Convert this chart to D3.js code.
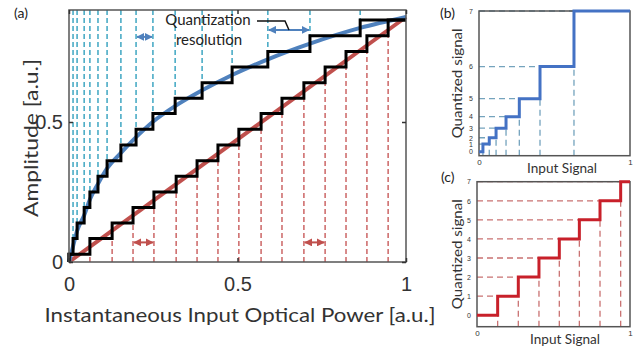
<!DOCTYPE html>
<html>
<head>
<meta charset="utf-8">
<script src="https://cdn.jsdelivr.net/npm/d3@7"></script>
<style>
  body { margin: 0; background: #fff; }
  svg { display: block; font-family: Lato, "Open Sans", sans-serif; }
</style>
</head>
<body>
<div class="container"></div>
<script>
// ---- panel (a) data ----
// quantized output levels (amplitude, a.u.)
const levelsA = [0.028, 0.084, 0.139, 0.195, 0.25, 0.306, 0.362, 0.418, 0.474, 0.53, 0.585, 0.64, 0.696, 0.752, 0.808, 0.864];
// input power where the linear quantizer steps up (red)
const redSteps = [0.062, 0.128, 0.19, 0.252, 0.318, 0.38, 0.442, 0.504, 0.57, 0.632, 0.697, 0.76, 0.822, 0.884, 0.947];
// input power where the nonlinear quantizer steps up (blue)
const blueSteps = [0.012, 0.024, 0.045, 0.062, 0.086, 0.113, 0.154, 0.199, 0.249, 0.315, 0.395, 0.484, 0.59, 0.715, 0.864];
// linear response
const redLineX = [0, 1];
const redLineY = [0, 0.875];
// nonlinear response
const blueCurveX = [0, 0.012, 0.024, 0.045, 0.062, 0.086, 0.113, 0.154, 0.199, 0.249, 0.315, 0.395, 0.484, 0.59, 0.715, 0.864, 1];
const blueCurveY = [0, 0.056, 0.111, 0.167, 0.223, 0.279, 0.334, 0.39, 0.446, 0.501, 0.557, 0.613, 0.668, 0.724, 0.78, 0.836, 0.875];
const xTicksA = [0, 0.5, 1];
const yTicksA = [0, 0.5];

// ---- panel (b) data ----
const levelsB = [0.028, 0.08, 0.124, 0.19, 0.27, 0.394, 0.616, 1.0];
const stepsB = [0.026, 0.068, 0.113, 0.179, 0.267, 0.404, 0.629];
// ---- panel (c) data ----
const levelsC = [0, 1, 2, 3, 4, 5, 6, 7];
const stepsC = [0.135, 0.27, 0.405, 0.538, 0.669, 0.804, 0.939];
const levelLabels = ['0', '1', '2', '3', '4', '5', '6', '7'];

const width = 634;
const height = 353;

const svg = d3.select('.container')
    .append('svg')
    .attr('width', width)
    .attr('height', height);

// arrow heads
const defs = svg.append('defs');
[['blueHead', '#4f81bd'], ['redHead', '#c0504d']].forEach(([id, col]) => {
    defs.append('marker')
        .attr('id', id)
        .attr('viewBox', '0 0 10 10')
        .attr('refX', 9).attr('refY', 5)
        .attr('markerWidth', 4).attr('markerHeight', 4)
        .attr('orient', 'auto-start-reverse')
        .append('path')
        .attr('d', 'M0,0 L10,5 L0,10 z')
        .attr('fill', col);
});

// builds the points of a staircase from step positions and levels
function stairs(steps, levels, x0, x1) {
    const pts = [[x0, levels[0]]];
    steps.forEach((s, i) => {
        pts.push([s, levels[i]]);
        pts.push([s, levels[i + 1]]);
    });
    pts.push([x1, levels[levels.length - 1]]);
    return pts;
}

// ================= panel (a) =================
const xA = d3.scaleLinear().domain([0, 1]).range([69, 406]);
const yA = d3.scaleLinear().domain([0, 0.9]).range([262, 10]);
const gA = svg.append('g');

// cyan dashes above the nonlinear staircase
gA.selectAll('.cyanDash')
    .data(blueSteps)
    .enter()
    .append('line')
    .attr('x1', d => xA(d)).attr('x2', d => xA(d))
    .attr('y1', yA(0.9))
    .attr('y2', (d, i) => yA(levelsA[i + 1]))
    .attr('stroke', '#4bacc6')
    .attr('stroke-width', 1.6)
    .attr('stroke-dasharray', '5,3');

// red dashes below the linear staircase
gA.selectAll('.redDash')
    .data(redSteps)
    .enter()
    .append('line')
    .attr('x1', d => xA(d)).attr('x2', d => xA(d))
    .attr('y1', yA(0))
    .attr('y2', (d, i) => yA(levelsA[i]))
    .attr('stroke', '#cf6f6f')
    .attr('stroke-width', 1.6)
    .attr('stroke-dasharray', '5,3');

const lineA = d3.line().x(d => xA(d[0])).y(d => yA(d[1]));

gA.append('path')
    .attr('d', lineA(redLineX.map((x, i) => [x, redLineY[i]])))
    .attr('fill', 'none')
    .attr('stroke', '#c0504d')
    .attr('stroke-width', 4);

gA.append('path')
    .attr('d', lineA.curve(d3.curveMonotoneX)(blueCurveX.map((x, i) => [x, blueCurveY[i]])))
    .attr('fill', 'none')
    .attr('stroke', '#4f81bd')
    .attr('stroke-width', 4);
lineA.curve(d3.curveLinear);

[redSteps, blueSteps].forEach(steps => {
    gA.append('path')
        .attr('d', lineA([[0, 0]].concat(stairs(steps, levelsA, 0, 1))))
        .attr('fill', 'none')
        .attr('stroke', '#000')
        .attr('stroke-width', 3);
});

// quantization resolution arrows
const arrowsA = [
    {a: blueSteps[7], b: blueSteps[8], y: 0.804, head: 'blueHead', col: '#4f81bd'},
    {a: blueSteps[12], b: blueSteps[13], y: 0.829, head: 'blueHead', col: '#4f81bd'},
    {a: redSteps[2], b: redSteps[3], y: 0.07, head: 'redHead', col: '#c0504d'},
    {a: redSteps[10], b: redSteps[11], y: 0.07, head: 'redHead', col: '#c0504d'}
];
gA.selectAll('.arrow')
    .data(arrowsA)
    .enter()
    .append('line')
    .attr('x1', d => xA(d.a) + 1).attr('x2', d => xA(d.b) - 1)
    .attr('y1', d => yA(d.y)).attr('y2', d => yA(d.y))
    .attr('stroke', d => d.col)
    .attr('stroke-width', 2)
    .attr('marker-start', d => `url(#${d.head})`)
    .attr('marker-end', d => `url(#${d.head})`);

// box + inward ticks
gA.append('rect')
    .attr('x', 69).attr('y', 10)
    .attr('width', 337).attr('height', 252)
    .attr('fill', 'none')
    .attr('stroke', '#555')
    .attr('stroke-width', 1.5);

const styleAxis = (g, size) => {
    g.select('.domain').remove();
    g.selectAll('.tick line').attr('stroke', '#333').attr('stroke-width', 1.5);
    g.selectAll('.tick text').attr('fill', '#333').style('font-size', size + 'px');
};

gA.append('g')
    .attr('transform', 'translate(0,262)')
    .call(d3.axisBottom(xA).tickValues(xTicksA).tickSize(-4).tickPadding(15).tickFormat(d3.format('~g')))
    .call(g => styleAxis(g, 20));
gA.append('g')
    .attr('transform', 'translate(69,0)')
    .call(d3.axisLeft(yA).tickValues(yTicksA).tickSize(-4).tickPadding(6).tickFormat(d3.format('~g')))
    .call(g => styleAxis(g, 20));
gA.append('g')
    .attr('transform', 'translate(406,0)')
    .call(d3.axisRight(yA).tickValues(yTicksA).tickSize(-4).tickFormat(''))
    .call(g => styleAxis(g, 20));
gA.append('g')
    .attr('transform', 'translate(0,10)')
    .call(d3.axisTop(xA).tickValues(xTicksA).tickSize(-4).tickFormat(''))
    .call(g => styleAxis(g, 20));

// annotation text
gA.append('text').attr('x', 208).attr('y', 25).attr('text-anchor', 'middle')
    .style('font-size', '15px').attr('fill', '#222').text('Quantization');
gA.append('text').attr('x', 209).attr('y', 45).attr('text-anchor', 'middle')
    .style('font-size', '15px').attr('fill', '#222').text('resolution');
gA.append('path')
    .attr('d', 'M257,21 L285,21 L289,30')
    .attr('fill', 'none').attr('stroke', '#111').attr('stroke-width', 1.5);

svg.append('text').attr('x', 14).attr('y', 18)
    .style('font-size', '14px').attr('fill', '#222').text('(a)');
svg.append('text')
    .attr('transform', 'translate(38,138) rotate(-90)')
    .attr('text-anchor', 'middle')
    .attr('textLength', 158).attr('lengthAdjust', 'spacingAndGlyphs')
    .style('font-size', '20px').attr('fill', '#333')
    .text('Amplitude [a.u.]');
svg.append('text')
    .attr('x', 240).attr('y', 322)
    .attr('text-anchor', 'middle')
    .attr('textLength', 391).attr('lengthAdjust', 'spacingAndGlyphs')
    .style('font-size', '20px').attr('fill', '#333')
    .text('Instantaneous Input Optical Power [a.u.]');

// ================= panels (b) and (c) =================
function smallPanel(cfg) {
    const g = svg.append('g');
    const x = d3.scaleLinear().domain([0, 1]).range(cfg.xr);
    const y = d3.scaleLinear().domain(cfg.yd).range(cfg.yr);
    const line = d3.line().x(d => x(d[0])).y(d => y(d[1]));

    // horizontal dashes to the start of each level
    g.selectAll('.hd')
        .data(cfg.steps)
        .enter()
        .append('line')
        .attr('x1', x(0)).attr('x2', d => x(d))
        .attr('y1', (d, i) => y(cfg.levels[i + 1]))
        .attr('y2', (d, i) => y(cfg.levels[i + 1]))
        .attr('stroke', cfg.dash).attr('stroke-width', 1.3)
        .attr('stroke-dasharray', '6,4');
    // vertical dashes up to each riser
    g.selectAll('.vd')
        .data(cfg.steps)
        .enter()
        .append('line')
        .attr('x1', d => x(d)).attr('x2', d => x(d))
        .attr('y1', y(cfg.yd[0]))
        .attr('y2', (d, i) => y(cfg.levels[i]))
        .attr('stroke', cfg.dash).attr('stroke-width', 1.3)
        .attr('stroke-dasharray', '6,4');

    g.append('rect')
        .attr('x', cfg.xr[0]).attr('y', cfg.yr[1])
        .attr('width', cfg.xr[1] - cfg.xr[0]).attr('height', cfg.yr[0] - cfg.yr[1])
        .attr('fill', 'none').attr('stroke', '#555').attr('stroke-width', 1.5);

    g.append('path')
        .attr('d', line(stairs(cfg.steps, cfg.levels, 0, 1)))
        .attr('fill', 'none')
        .attr('stroke', cfg.col)
        .attr('stroke-width', 3);

    g.append('g')
        .attr('transform', `translate(${cfg.xr[0]},0)`)
        .call(d3.axisLeft(y).tickValues(cfg.levels).tickSize(0).tickPadding(6)
            .tickFormat((d, i) => levelLabels[i]))
        .call(gg => styleAxis(gg, 7));
    g.append('g')
        .attr('transform', `translate(0,${cfg.yr[0]})`)
        .call(d3.axisBottom(x).tickValues([0, 1]).tickSize(0).tickPadding(4).tickFormat(d3.format('~g')))
        .call(gg => styleAxis(gg, 8));

    g.append('text')
        .attr('transform', `translate(462,${(cfg.yr[0] + cfg.yr[1]) / 2}) rotate(-90)`)
        .attr('text-anchor', 'middle')
        .attr('textLength', 110).attr('lengthAdjust', 'spacingAndGlyphs')
        .style('font-size', '14px').attr('fill', '#333')
        .text('Quantized signal');
    g.append('text')
        .attr('x', cfg.titleX).attr('y', cfg.yr[0] + 17)
        .attr('text-anchor', 'middle')
        .attr('textLength', 70).attr('lengthAdjust', 'spacingAndGlyphs')
        .style('font-size', '14px').attr('fill', '#333')
        .text('Input Signal');
    g.append('text').attr('x', cfg.tag[0]).attr('y', cfg.tag[1])
        .style('font-size', '14px').attr('fill', '#222').text(cfg.name);
}

smallPanel({name: '(b)', tag: [440, 18], xr: [479, 630], yd: [0, 1], yr: [155.7, 11],
    levels: levelsB, steps: stepsB, col: '#4472c4', dash: '#74a3bd', titleX: 562});
smallPanel({name: '(c)', tag: [441, 182], xr: [477, 630], yd: [-0.6, 7], yr: [326.7, 181.7],
    levels: levelsC, steps: stepsC, col: '#c8202a', dash: '#c97272', titleX: 565});
</script>
</body>
</html>
